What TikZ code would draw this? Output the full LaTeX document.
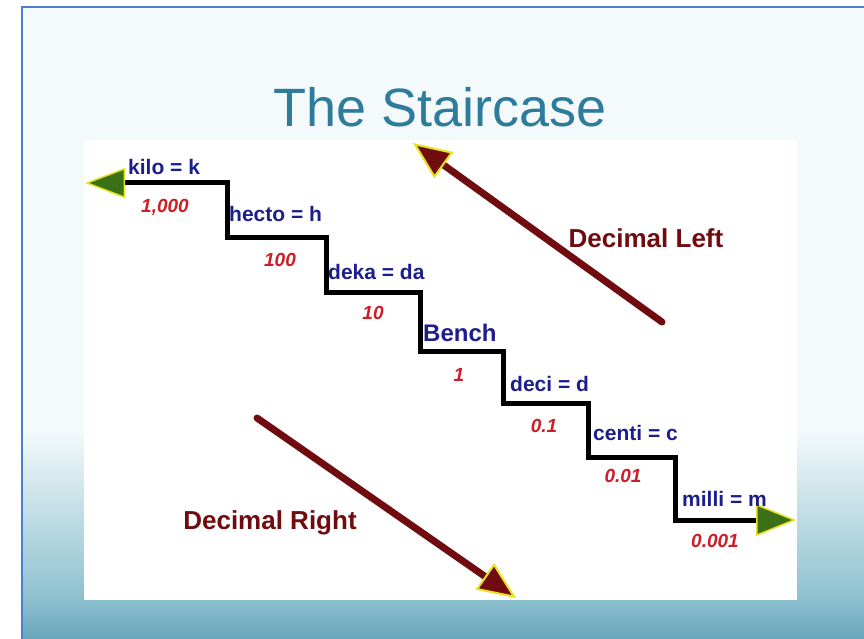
\documentclass[tikz,border=0pt]{standalone}
\usepackage{fontspec}
\setmainfont{Liberation Sans}
\usetikzlibrary{arrows.meta,calc}
\definecolor{unitblue}{RGB}{28,30,140}
\definecolor{valred}{RGB}{205,30,40}
\definecolor{arrowred}{RGB}{112,12,16}
\definecolor{tipgreen}{RGB}{58,112,22}
\definecolor{tipyellow}{RGB}{232,226,30}
\definecolor{titleteal}{RGB}{46,124,156}
\definecolor{slidebg}{RGB}{244,249,251}
\definecolor{slidemid}{RGB}{143,194,208}
\definecolor{slideteal}{RGB}{104,166,185}
\definecolor{slideline}{RGB}{74,128,205}

\begin{document}
\begin{tikzpicture}[x=1pt,y=-1pt]
  \tikzset{
    title/.style={anchor=base,inner sep=0pt,text=titleteal,font=\fontsize{54}{60}\selectfont},
    stepname/.style={anchor=base west,inner sep=0pt,text=unitblue,font=\fontsize{21}{25}\selectfont\bfseries},
    stepval/.style={anchor=base,inner sep=0pt,text=valred,font=\fontsize{19}{23}\selectfont\bfseries\itshape},
    dirlabel/.style={anchor=base,inner sep=0pt,text=arrowred,font=\fontsize{26}{30}\selectfont\bfseries},
    stair/.style={line width=5pt,line join=miter,
      {Triangle[length=40pt,width=30pt,color=tipyellow,fill=tipgreen,line width=1.5pt]}-{Triangle[length=40pt,width=32pt,color=tipyellow,fill=tipgreen,line width=1.5pt]}},
    decarrow/.style={line width=7pt,arrowred,line cap=round,
      -{Triangle[length=38pt,width=32pt,color=tipyellow,fill=arrowred,line width=2pt]}}
  }
  \useasboundingbox (0,0) rectangle (864,639);

  % slide background
  \fill[white] (0,0) rectangle (864,639);
  \fill[slidebg] (22,7) rectangle (864,639);
  \shade[top color=slidebg,bottom color=slidemid] (22,430) rectangle (864,595);
  \shade[top color=slidemid,bottom color=slideteal] (22,595) rectangle (864,639);
  \draw[slideline,line width=2pt] (864,7) -- (22,7) -- (22,639);

  \node[title] (title) at (440,127) {The Staircase};

  % picture area
  \fill[white] (84,140) rectangle (797,600);

  % corners of the staircase
  \coordinate (kilo) at (227,183);
  \coordinate (hecto) at (227,237);
  \coordinate (deka) at (326,292);
  \coordinate (bench) at (420,351);
  \coordinate (deci) at (503,403);
  \coordinate (centi) at (588,457);
  \coordinate (milli) at (675,520);
  \coordinate (leftend) at (85,183);
  \coordinate (rightend) at (796,520);

  \draw[stair] (leftend) -- (kilo) -- (hecto) -- (hecto -| deka) -- (deka)
    -- (deka -| bench) -- (bench) -- (bench -| deci) -- (deci)
    -- (deci -| centi) -- (centi) -- (centi -| milli) -- (milli) -- (rightend);

  % unit names
  \node[stepname] (n-kilo) at (128,175) {kilo = k};
  \node[stepname] (n-hecto) at (229,222) {hecto = h};
  \node[stepname] (n-deka) at (328,279) {deka = da};
  \node[stepname,font=\fontsize{24}{28}\selectfont\bfseries] (n-bench) at (423,341) {Bench};
  \node[stepname] (n-deci) at (510,391) {deci = d};
  \node[stepname] (n-centi) at (593,440) {centi = c};
  \node[stepname] (n-milli) at (682,506) {milli = m};

  % place values
  \node[stepval] (v-kilo) at (165,212) {1,000};
  \node[stepval] (v-hecto) at (280,266) {100};
  \node[stepval] (v-deka) at (373,319) {10};
  \node[stepval] (v-bench) at (459,381) {1};
  \node[stepval] (v-deci) at (544,432) {0.1};
  \node[stepval] (v-centi) at (623,482) {0.01};
  \node[stepval] (v-milli) at (715,547) {0.001};

  % decimal moves
  \coordinate (left-from) at (662,322);
  \coordinate (left-to) at (413,143);
  \coordinate (right-from) at (257,418);
  \coordinate (right-to) at (516,598);
  \draw[decarrow] (left-from) -- (left-to);
  \draw[decarrow] (right-from) -- (right-to);
  \node[dirlabel] (d-left) at (646,247) {Decimal Left};
  \node[dirlabel] (d-right) at (270,529) {Decimal Right};
\end{tikzpicture}
\end{document}
